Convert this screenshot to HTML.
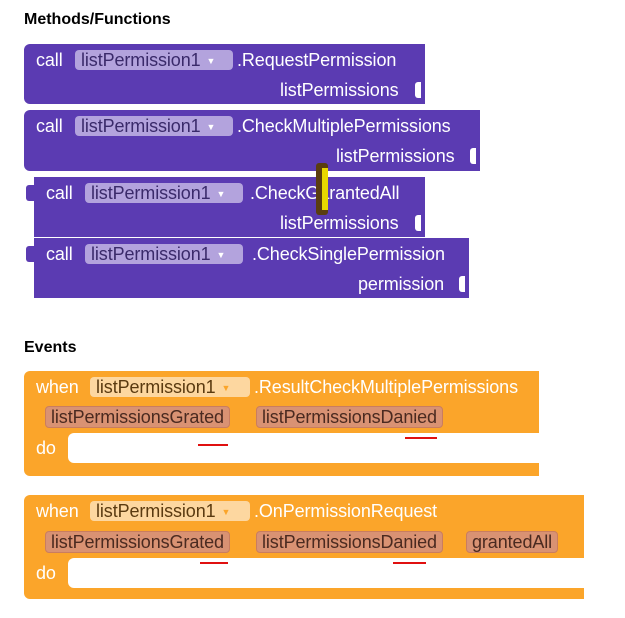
<!DOCTYPE html>
<html><head><style>
body{margin:0;width:625px;height:618px;background:#fff;position:relative;overflow:hidden;font-family:"Liberation Sans",Arial,sans-serif;}
.a{position:absolute;}
.h{font-weight:bold;font-size:16px;color:#000;}
.p{background:#5b3bb2;}
.o{background:#fba52a;}
.t{position:absolute;color:#fff;font-size:18px;letter-spacing:-0.1px;white-space:nowrap;}
.dd{position:absolute;background:#b3a3dd;border-radius:4px;height:20px;color:#3a2a6a;font-size:18px;letter-spacing:-0.1px;line-height:20px;padding-left:6px;white-space:nowrap;}
.dd i{font-style:normal;font-size:9px;color:#fff;margin-left:6px;vertical-align:2px;}
.od{position:absolute;background:#fdd7a0;border-radius:4px;height:20px;color:#5a3a10;font-size:18px;letter-spacing:-0.1px;line-height:20px;padding-left:6px;white-space:nowrap;}
.od i{font-style:normal;font-size:9px;color:#fba52a;margin-left:6px;vertical-align:2px;}
.par{position:absolute;background:#d99273;border:1px solid #c97d60;border-radius:4px;height:20px;color:#4a2a20;font-size:18px;letter-spacing:-0.1px;line-height:20px;padding:0 5px;white-space:nowrap;}
.plug{position:absolute;width:6px;height:16px;background:#fff;border-radius:3px 0 0 3px;}
.red{position:absolute;height:2px;background:#e01010;}
</style></head><body>
<div class="a h" style="left:24px;top:11px">Methods/Functions</div>

<div class="a p" style="left:24px;top:44px;width:401px;height:60px;border-radius:6px 0 0 6px"></div>
<div class="t" style="left:36px;top:50px">call</div>
<div class="dd" style="left:75px;top:50px;width:152px">listPermission1<i>▼</i></div>
<div class="t" style="left:237px;top:50px">.RequestPermission</div>
<div class="t" style="left:280px;top:80px">listPermissions</div>
<div class="plug" style="left:415px;top:82px"></div>

<div class="a p" style="left:24px;top:110px;width:456px;height:61px;border-radius:6px 0 0 6px"></div>
<div class="t" style="left:36px;top:116px">call</div>
<div class="dd" style="left:75px;top:116px;width:152px">listPermission1<i>▼</i></div>
<div class="t" style="left:237px;top:116px">.CheckMultiplePermissions</div>
<div class="t" style="left:336px;top:146px">listPermissions</div>
<div class="plug" style="left:470px;top:148px"></div>

<div class="a p" style="left:34px;top:177px;width:391px;height:60px"></div>
<div class="plug" style="left:26px;top:185px;background:#5b3bb2;width:8px"></div>
<div class="t" style="left:46px;top:183px">call</div>
<div class="dd" style="left:85px;top:183px;width:152px">listPermission1<i>▼</i></div>
<div class="t" style="left:250px;top:183px">.CheckGarantedAll</div>
<div class="a" style="left:316px;top:163px;width:12px;height:52px;background:#5a3d10;border-radius:3px"></div>
<div class="a" style="left:322px;top:168px;width:6px;height:42px;background:#e8d800"></div>
<div class="t" style="left:280px;top:213px">listPermissions</div>
<div class="plug" style="left:415px;top:215px"></div>

<div class="a p" style="left:34px;top:238px;width:435px;height:60px"></div>
<div class="plug" style="left:26px;top:246px;background:#5b3bb2;width:8px"></div>
<div class="t" style="left:46px;top:244px">call</div>
<div class="dd" style="left:85px;top:244px;width:152px">listPermission1<i>▼</i></div>
<div class="t" style="left:252px;top:244px">.CheckSinglePermission</div>
<div class="t" style="left:358px;top:274px">permission</div>
<div class="plug" style="left:459px;top:276px"></div>

<div class="a h" style="left:24px;top:339px">Events</div>

<div class="a o" style="left:24px;top:371px;width:515px;height:105px;border-radius:6px 0 0 6px"></div>
<div class="t" style="left:36px;top:377px">when</div>
<div class="od" style="left:90px;top:377px;width:154px">listPermission1<i>▼</i></div>
<div class="t" style="left:254px;top:377px">.ResultCheckMultiplePermissions</div>
<div class="par" style="left:45px;top:406px">listPermissionsGrated</div>
<div class="par" style="left:256px;top:406px">listPermissionsDanied</div>
<div class="t" style="left:36px;top:438px">do</div>
<div class="a" style="left:68px;top:433px;width:471px;height:30px;background:#fff;border-radius:6px 0 0 6px"></div>
<div class="red" style="left:198px;top:444px;width:30px"></div>
<div class="red" style="left:405px;top:437px;width:32px"></div>

<div class="a o" style="left:24px;top:495px;width:560px;height:104px;border-radius:6px 0 0 6px"></div>
<div class="t" style="left:36px;top:501px">when</div>
<div class="od" style="left:90px;top:501px;width:154px">listPermission1<i>▼</i></div>
<div class="t" style="left:254px;top:501px">.OnPermissionRequest</div>
<div class="par" style="left:45px;top:531px">listPermissionsGrated</div>
<div class="par" style="left:256px;top:531px">listPermissionsDanied</div>
<div class="par" style="left:466px;top:531px">grantedAll</div>
<div class="t" style="left:36px;top:563px">do</div>
<div class="a" style="left:68px;top:558px;width:516px;height:30px;background:#fff;border-radius:6px 0 0 6px"></div>
<div class="red" style="left:200px;top:562px;width:28px"></div>
<div class="red" style="left:393px;top:562px;width:33px"></div>
</body></html>
